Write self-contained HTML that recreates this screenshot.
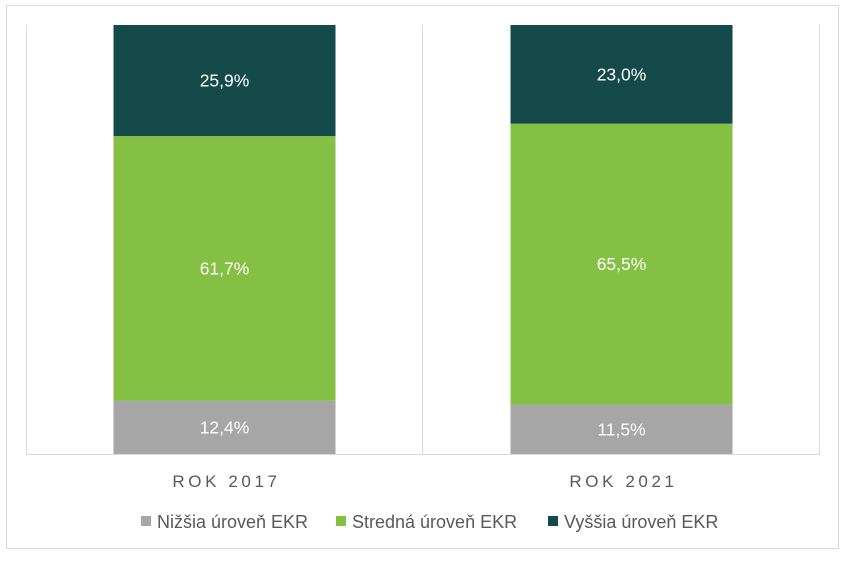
<!DOCTYPE html>
<html><head><meta charset="utf-8"><style>
body{margin:0;background:#fff;width:845px;height:563px;overflow:hidden;font-family:"Liberation Sans",sans-serif}
</style></head><body>
<svg width="845" height="563">
<rect x="6.5" y="5.5" width="832" height="543" fill="#fff" stroke="#d9d9d9"/>
<g id="plot"></g>
<g id="legend"></g>
</svg>
<script>
const categories=["ROK 2017","ROK 2021"];
const lowVals=[12.4,11.5];
const midVals=[61.7,65.5];
const highVals=[25.9,23.0];
const seriesNames=["Nižšia úroveň EKR","Stredná úroveň EKR","Vyššia úroveň EKR"];
const colors=["#a6a6a6","#84c043","#154a4a"];
const NS="http://www.w3.org/2000/svg";
const plot=document.getElementById('plot');
const L=26,R=820,T=25,B=454;
const bw=(R-L)/categories.length;
const y=v=>B-(v/100)*(B-T);
function mk(t,a,p){const e=document.createElementNS(NS,t);for(const k in a)e.setAttribute(k,a[k]);p.appendChild(e);return e;}
const g1=mk('line',{x1:L+0.5,x2:L+0.5,y1:T,y2:B,stroke:'#d9d9d9'},plot);


for(let i=1;i<=categories.length;i++){
 const g=mk('line',{x1:L+bw*i-0.5,x2:L+bw*i-0.5,y1:T,y2:B,stroke:'#d9d9d9'},plot);
 
 
}
const ax=mk('line',{x1:L,x2:R,y1:B+0.5,y2:B+0.5,stroke:'#d9d9d9'},plot);


const series=[lowVals,midVals,highVals];
const segNames=['bar-low','bar-mid','bar-high'];
categories.forEach((c,i)=>{
 const cx=L+bw*(i+0.5);const w=222;
 let cum=0;
 series.forEach((s,j)=>{
  const v=s[i];const y0=y(cum),y1=y(cum+v);cum+=v;
  const r=mk('rect',{x:cx-w/2,y:y1,width:w,height:y0-y1,fill:colors[j]},plot);
  
  
  const t=mk('text',{x:cx,y:(y0+y1)/2+6,'text-anchor':'middle','font-size':'17.5',fill:'#fff'},plot);
  t.textContent=v.toFixed(1).replace('.',',')+'%';
  
  
 });
 const lt=mk('text',{x:cx+2,y:487,'text-anchor':'middle','font-size':'17',fill:'#595959','letter-spacing':'3.6'},plot);
 lt.textContent=c;
 
 
});
const leg=document.getElementById('legend');
const lx=[141,336,548];
seriesNames.forEach((n,j)=>{
 const s=mk('rect',{x:lx[j],y:516,width:10,height:10,fill:colors[j]},leg);
 
 
 const t=mk('text',{x:lx[j]+16,y:528,'font-size':'18',fill:'#595959'},leg);
 t.textContent=n;
 
 
});
</script>
</body></html>
